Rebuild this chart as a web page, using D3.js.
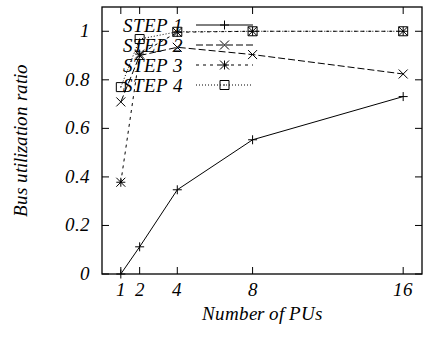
<!DOCTYPE html>
<html>
<head>
<meta charset="utf-8">
<script src="https://cdn.jsdelivr.net/npm/d3@7"></script>
<style>
  @font-face {
    font-family: "PlotSerif";
    font-style: italic;
    src: local("Liberation Serif Italic"), local("LiberationSerif-Italic"), local("Tinos Italic"), local("Times New Roman Italic");
  }
</style>
</head>
<body style="margin:0">
<main></main>
<script>
const w = 425;
const h = 338;

// data
const pus = [1, 2, 4, 8, 16];
const yTicks = [0, 0.2, 0.4, 0.6, 0.8, 1];
const seriesNames = ["STEP 1", "STEP 2", "STEP 3", "STEP 4"];
const step1 = [0, 0.112, 0.347, 0.553, 0.731];
const step2 = [0.709, 0.9, 0.934, 0.904, 0.824];
const step3 = [0.378, 0.906, 0.996, 1, 1];
const step4 = [0.77, 0.968, 0.998, 1, 1];

const seriesValues = [step1, step2, step3, step4];
const dashes = ["none", "7,3", "3,4", "1,2"];
const markers = ["plus", "cross", "star", "box"];

const plotL = 102, plotR = 422, plotT = 7, plotB = 274;
const serif = "PlotSerif, 'Times New Roman', 'Liberation Serif', Tinos";

const svg = d3
  .select("main")
  .append("svg")
  .attr("width", w)
  .attr("height", h);

const x = d3.scaleLinear().domain([0, 17]).range([plotL, plotR]);
const y = d3.scaleLinear().domain([0, 1.1]).range([plotB, plotT]);

// ticks, all pointing inward
const g = svg.append("g").attr("stroke", "#000").attr("stroke-width", 1);
pus.forEach((p) => {
  g.append("line").attr("x1", x(p)).attr("x2", x(p)).attr("y1", plotB).attr("y2", plotB - 7);
  g.append("line").attr("x1", x(p)).attr("x2", x(p)).attr("y1", plotT).attr("y2", plotT + 7);
});
yTicks.forEach((t) => {
  g.append("line").attr("x1", plotL).attr("x2", plotL + 7).attr("y1", y(t)).attr("y2", y(t));
  g.append("line").attr("x1", plotR).attr("x2", plotR - 7).attr("y1", y(t)).attr("y2", y(t));
});

function marker(sel, type, cx, cy) {
  const s = 4.5;
  let d = "";
  if (type === "plus" || type === "star")
    d += `M${cx - s},${cy}H${cx + s}M${cx},${cy - s}V${cy + s}`;
  if (type === "cross" || type === "star")
    d += `M${cx - s},${cy - s}L${cx + s},${cy + s}M${cx - s},${cy + s}L${cx + s},${cy - s}`;
  if (type === "box")
    d += `M${cx - s},${cy - s}H${cx + s}V${cy + s}H${cx - s}Z M${cx - 0.5},${cy}h1`;
  sel
    .append("path")
    .attr("d", d)
    .attr("fill", "none")
    .attr("stroke", "#000")
    .attr("stroke-width", 1);
}

const line = d3
  .line()
  .x((d, i) => x(pus[i]))
  .y((d) => y(d));

const legendRows = [25, 45, 65, 85];

seriesValues.forEach((vals, k) => {
  const sg = svg.append("g");
  sg.append("path")
    .attr("d", line(vals))
    .attr("fill", "none")
    .attr("stroke", "#000")
    .attr("stroke-width", 1)
    .attr("stroke-dasharray", dashes[k]);
  vals.forEach((v, i) => marker(sg, markers[k], x(pus[i]), y(v)));

  sg.append("line")
    .attr("x1", 196)
    .attr("x2", 253)
    .attr("y1", legendRows[k])
    .attr("y2", legendRows[k])
    .attr("stroke", "#000")
    .attr("stroke-width", 1)
    .attr("stroke-dasharray", dashes[k]);
  marker(sg, markers[k], 224.5, legendRows[k]);
});

svg
  .append("rect")
  .attr("x", plotL)
  .attr("y", plotT)
  .attr("width", plotR - plotL)
  .attr("height", plotB - plotT)
  .attr("fill", "none")
  .attr("stroke", "#000")
  .attr("stroke-width", 1.3);

// all texts in one join, like a plain list of labels
const labels = [
  ...pus.map((p) => ({ t: p, x: x(p), y: 296, a: "middle" })),
  ...yTicks.map((t) => ({ t: t, x: 90, y: y(t) + 6, a: "end" })),
  ...seriesNames.map((n, k) => ({ t: n, x: 183, y: legendRows[k] + 7, a: "end" })),
  { t: "Number of PUs", x: (plotL + plotR) / 2, y: 320, a: "middle" },
  { t: "Bus utilization ratio", x: 0, y: 0, a: "middle", rot: true },
];

svg
  .selectAll("text")
  .data(labels)
  .join("text")
  .attr("font-size", 19)
  .attr("font-style", "italic")
  .attr("font-family", serif)
  .style("font-family", serif)
  .attr("fill", "#000")
  .attr("text-anchor", (d) => d.a)
  .attr("x", (d) => d.x)
  .attr("y", (d) => d.y)
  .attr("transform", (d) =>
    d.rot ? `translate(27, ${(plotT + plotB) / 2}) rotate(-90)` : null
  )
  .text((d) => d.t);
</script>
</body>
</html>
